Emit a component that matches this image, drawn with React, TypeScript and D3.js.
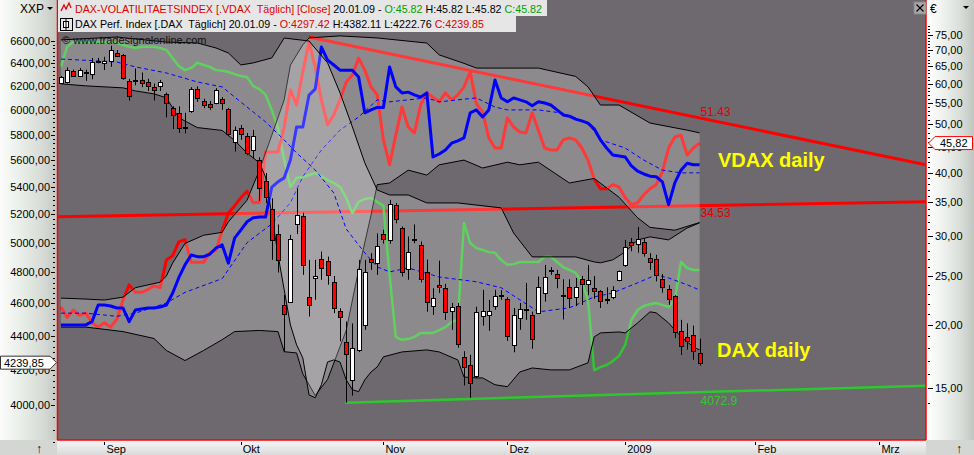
import React from "react";
import * as d3 from "d3";

const W = 974;
const H = 455;

// DAX daily candles, bar 0 = 21.08.2008 ... bar 103 = 20.01.2009
const daxOpen = [6232,6241,6333,6290,6318,6308,6416,6400,6425,6495,6474,6247,6248,6256,6236,6194,6206,6137,6020,5979,5860,5990,6180,6074,6052,6059,6096,6013,5747,5859,5788,5682,5606,5447,5237,5058,4591,4609,5132,5189,4641,4762,4888,4879,4738,4555,4360,4141,4316,4465,4888,4860,5058,5021,5270,5102,4822,5020,4986,4802,4583,4720,4698,4554,4585,4274,4228,4160,4522,4525,4583,4650,4628,4342,4507,4561,4526,4542,4667,4812,4790,4651,4705,4641,4755,4726,4700,4677,4627,4640,4750,4849,5005,4990,5005,4895,4888,4755,4690,4646,4426,4392,4406,4297.42];
const daxHigh = [6290,6365,6345,6360,6345,6448,6448,6458,6558,6519,6483,6265,6355,6320,6266,6225,6256,6148,6033,6033,5979,6194,6200,6096,6077,6185,6110,6020,5867,5880,5815,5840,5624,5504,5316,5128,4654,5055,5389,5211,4884,4884,4940,4906,4777,4570,4487,4475,4884,4884,4929,5064,5091,5304,5282,5114,5044,5128,5009,4886,4697,4879,4726,4603,4603,4307,4286,4579,4687,4623,4687,4685,4640,4571,4603,4731,4548,4773,4850,4835,4817,4755,4755,4763,4777,4850,4777,4685,4703,4710,4813,5020,5033,5110,5033,4929,4918,4790,4718,4652,4497,4475,4462,4382.11];
const daxLow = [6226,6226,6283,6283,6248,6262,6400,6342,6370,6460,6256,6081,6210,6194,6161,6081,6161,5942,5847,5817,5812,5979,6071,6018,6003,6050,6003,5790,5668,5761,5640,5617,5297,5281,4884,4800,4302,4603,5060,4784,4518,4623,4752,4720,4539,4366,4013,4052,4302,4436,4817,4784,4994,4994,5136,4773,4752,4997,4735,4548,4527,4666,4497,4436,4328,4109,4040,4150,4461,4430,4560,4623,4369,4301,4436,4497,4322,4539,4612,4784,4697,4500,4571,4583,4590,4652,4629,4571,4596,4626,4743,4838,4942,4933,4906,4817,4742,4669,4591,4386,4285,4316,4257,4222.76];
const daxClose = [6279,6342,6292,6342,6322,6412,6420,6418,6519,6466,6275,6123,6252,6226,6208,6172,6241,6059,5959,5859,5865,6180,6103,6046,6030,6170,6058,5810,5839,5810,5658,5793,5389,5325,5016,4886,4535,5027,5197,4850,4588,4775,4828,4785,4570,4514,4292,4329,4822,4800,4870,4981,5029,5277,5165,4806,4940,5025,4757,4612,4635,4705,4548,4577,4352,4216,4125,4548,4555,4555,4647,4655,4396,4529,4564,4565,4380,4708,4773,4815,4763,4654,4634,4705,4723,4752,4677,4618,4630,4684,4810,4970,4986,5023,4933,4873,4785,4705,4630,4420,4336,4366,4306,4239.85];

// VDAX close (red), second volatility line (blue), oscillator 0..100 (green)
const vdaxRed = [21.7,20.7,21.4,20.9,21.1,20.2,19.8,20.2,19.8,20.5,22.4,24.0,23.2,23.2,23.5,23.9,23.7,26.9,27.4,29.2,29.5,26.6,26.6,26.6,27.8,28.1,30.8,33.3,34.4,35.7,36.8,34.9,35.0,44.0,44.0,44.0,49.3,58.4,54.5,63.4,72.7,64.8,55.8,49.8,52.1,55.8,60.5,62.5,67.5,63.9,59.2,57.1,46.5,41.5,47.5,54.0,49.3,48.0,54.5,57.6,56.5,55.3,57.6,55.8,57.1,59.2,63.4,54.8,52.8,46.9,44.8,44.8,51.4,49.3,48.2,48.0,52.6,48.6,44.8,44.4,44.4,46.5,46.9,46.5,44.8,42.4,38.9,37.2,37.2,37.9,37.5,35.7,34.6,34.9,36.2,37.2,37.9,40.2,44.8,47.1,47.5,43.4,44.8,45.82];
const vdaxBlue = [20.0,20.0,20.0,20.0,20.0,20.3,21.9,21.9,21.8,21.6,21.6,20.3,21.4,21.5,21.6,21.6,21.7,21.9,23.1,24.8,26.3,27.5,27.3,27.3,27.6,28.4,28.8,26.5,29.7,30.8,32.0,32.6,32.7,32.7,37.5,38.4,39.1,42.4,49.3,49.3,57.0,58.6,71.0,66.9,65.4,63.9,63.9,63.9,61.9,52.6,53.3,53.9,53.9,64.8,59.2,57.6,57.8,57.1,56.5,57.6,43.0,43.6,44.4,45.8,46.3,46.9,52.6,53.3,51.6,53.3,61.1,56.3,55.3,56.3,55.8,55.3,54.3,55.3,55.0,54.5,53.3,52.1,51.8,51.1,50.7,50.2,48.9,46.5,44.8,43.4,43.2,43.0,41.3,40.3,39.8,39.4,39.3,38.4,34.6,38.2,40.5,41.8,41.5,41.5];
const oscGreen = [93.0,98.4,99.7,99.7,99.7,99.7,99.7,99.7,99.5,99.5,98.9,98.4,98.1,98.4,98.4,98.4,98.1,97.5,95.3,93.1,92.0,92.6,94.0,93.4,92.9,92.0,91.8,91.5,90.9,90.4,90.1,87.6,86.8,85.2,81.0,76.1,67.3,59.9,62.4,62.6,63.2,63.7,62.9,61.8,61.0,59.9,56.9,52.7,55.8,56.6,56.9,55.8,54.7,35.7,18.7,17.9,18.1,18.7,19.8,19.8,19.8,20.6,21.4,22.8,23.4,50.0,44.5,43.1,42.6,42.0,41.8,39.8,38.5,38.7,39.3,39.3,39.3,39.3,40.7,40.7,39.3,37.9,37.1,36.3,33.8,28.8,9.6,10.4,11.0,12.1,13.5,16.5,23.4,26.1,27.2,27.7,28.0,27.5,26.9,28.8,39.3,37.6,37.1,37.1];

// Bollinger bands read at bar indices: [bar, value]
const daxUpper = [[0,6610],[9,6636],[17,6590],[22,6582],[25,6537],[27,6492],[29,6386],[31,6404],[34,6448],[36,6627],[40,6600],[43,6404],[45,6146],[47,5864],[49,5581],[51,5377],[53,5340],[56,5340],[59,5282],[64,5282],[71,5246],[73,5068],[76,4904],[79,4904],[83,4904],[86,4870],[87,4864],[89,4884],[91,4938],[93,5020],[95,5041],[98,5020],[101,5103],[103,5139]];
const daxLower = [[0,6222],[4,6205],[10,6188],[12,6162],[15,6137],[17,6104],[19,5939],[22,5859],[26,5836],[28,5756],[30,5658],[32,5581],[33,5474],[34,5196],[35,4918],[36,4687],[37,4466],[38,4345],[39,4268],[40,4056],[41,4040],[42,4113],[43,4244],[44,4256],[45,4244],[46,4141],[47,4085],[48,4074],[49,4141],[50,4186],[51,4215],[52,4274],[55,4303],[59,4315],[61,4303],[64,4256],[65,4157],[67,4152],[68,4152],[70,4113],[72,4102],[74,4186],[76,4209],[79,4198],[82,4198],[85,4239],[86,4393],[87,4417],[90,4423],[91,4417],[93,4478],[95,4547],[96,4541],[98,4478],[100,4393],[102,4333],[103,4315]];
const daxMid = [[0,6438],[3,6430],[9,6412],[12,6369],[17,6316],[22,6238],[26,6196],[30,6027],[33,5905],[36,5760],[38,5658],[41,5527],[44,5355],[46,5096],[49,4931],[51,4837],[53,4804],[56,4830],[61,4770],[67,4739],[71,4700],[74,4623],[77,4547],[82,4572],[86,4641],[89,4667],[93,4732],[96,4784],[98,4764],[101,4719],[103,4686]];
const vdaxUpper = [[0,22.6],[4,22.5],[7,22.4],[10,22.7],[12,23.7],[16,24.3],[17,25.0],[18,26.5],[20,29.0],[23,30.1],[26,30.5],[27,32.0],[30,35.3],[32,40.5],[34,47.5],[36,55.8],[37,65.4],[39,71.7],[40,74.0],[45,74.7],[51,74.0],[59,72.3],[61,68.5],[65,65.9],[67,64.5],[77,64.5],[83,62.1],[85,59.2],[87,54.5],[90,54.5],[95,50.2],[101,48.6],[103,48.0]];
const vdaxLower = [[0,19.8],[4,19.8],[10,19.4],[15,18.8],[17,17.8],[20,17.0],[23,17.8],[26,18.7],[28,19.4],[32,19.5],[35,19.4],[36,17.7],[38,17.6],[39,16.0],[41,14.5],[43,15.6],[46,19.5],[48,25.7],[50,33.0],[51,37.9],[53,38.2],[56,40.5],[59,39.6],[61,41.5],[65,42.4],[68,40.9],[72,42.0],[74,41.5],[77,42.0],[82,38.2],[86,39.0],[90,35.8],[93,32.6],[95,31.2],[99,30.8],[103,31.9]];
const vdaxMid = [[0,21.1],[4,21.1],[9,20.8],[12,21.1],[17,22.1],[20,23.2],[26,24.7],[30,29.1],[34,31.7],[37,34.9],[39,39.3],[42,44.4],[45,48.6],[48,51.6],[51,55.8],[53,55.3],[56,55.8],[59,56.3],[61,55.3],[64,55.8],[67,56.3],[70,54.0],[72,53.3],[77,53.3],[81,52.5],[85,50.2],[87,46.5],[91,44.8],[94,42.4],[97,40.5],[100,40.0],[103,40.0]];

// Trend lines [bar, value]
const trendVdaxTop = [[40, 74.3], [139.5, 41.5]];
const trendVdaxBase = [[-0.65, 32.75], [139.5, 35.08]];
const trendDaxSupport = [[45.8, 4013], [139.5, 4108]];
const trendLabels = ["51.43", "34.53", "4072.9"];

const daxTicks = [4000,4200,4400,4600,4800,5000,5200,5400,5600,5800,6000,6200,6400,6600];
const vdaxTicks = [15,20,25,30,35,40,45,50,55,60,65,70,75];
const monthLabels = ["Sep","Okt","Nov","Dez","2009","Feb","Mrz"];
const monthBars = [7,29,52,72,91,112,132];

const FONT = "'Liberation Sans', Arial, sans-serif";
const PL = 57, PR = 926, PT = 0, PB = 440;

const loc = d3.formatLocale({ decimal: ",", thousands: ".", grouping: [3], currency: ["", ""] });
const fmt2 = loc.format(".2f");

export default function App() {
  const x = d3.scaleLinear().domain([0, 103]).range([61, 699.6]);
  const yD = d3.scaleLog().domain([4000, 6600]).range([405, 41]);
  const yV = d3.scaleLog().domain([15, 75]).range([388, 35]);
  const yO = d3.scaleLinear().domain([0, 100]).range([405, 41]);

  const seriesLine = (ys: any) => d3.line<number>().x((_, i) => x(i)).y((v) => ys(v));
  const ptLine = (ys: any) => d3.line<number[]>().x((d) => x(d[0])).y((d) => ys(d[1]));
  const band = (up: number[][], lo: number[][], ys: any) => {
    const pts: [number, number][] = [
      ...up.map((d) => [x(d[0]), ys(d[1])] as [number, number]),
      ...lo.slice().reverse().map((d) => [x(d[0]), ys(d[1])] as [number, number]),
    ];
    return (d3.line()(pts) || "") + "Z";
  };

  const overlay = "rgba(255,255,255,0.22)";
  const bg = "#6e696e";

  const daxMinor: number[] = [];
  for (let k = 0; k < daxTicks.length - 1; k++) {
    for (let s = 1; s < 6; s++) daxMinor.push(daxTicks[k] + (s * (daxTicks[k + 1] - daxTicks[k])) / 6);
  }
  daxMinor.push(3933, 3867, 3800);
  const vdaxMinor = d3.range(14, 79, 1).filter((v) => v % 5 !== 0);

  const lastDax = daxClose[daxClose.length - 1];
  const lastV = vdaxRed[vdaxRed.length - 1];
  const tagY = yD(lastDax);
  const vTagY = yV(lastV);

  return (
    <div style={{ position: "absolute", left: 0, top: 0, width: W, height: H, overflow: "hidden" }}>
      <svg width={W} height={H} style={{ display: "block", fontFamily: FONT }}>
        <defs>
          <clipPath id="plotClip">
            <rect x={PL} y={PT} width={PR - PL} height={PB - PT} />
          </clipPath>
          <linearGradient id="leftAxisG" x1="0" x2="1" y1="0" y2="0">
            <stop offset="0" stopColor="#fbfcfb" />
            <stop offset="0.35" stopColor="#eaefea" />
            <stop offset="0.75" stopColor="#d6dbd6" />
            <stop offset="1" stopColor="#c3c8c3" />
          </linearGradient>
          <linearGradient id="rightAxisG" x1="0" x2="1" y1="0" y2="0">
            <stop offset="0" stopColor="#ffffff" />
            <stop offset="0.3" stopColor="#f2f4f2" />
            <stop offset="0.7" stopColor="#dadfda" />
            <stop offset="1" stopColor="#c2c6c2" />
          </linearGradient>
          <linearGradient id="bottomG" x1="0" x2="0" y1="0" y2="1">
            <stop offset="0" stopColor="#f7f7f7" />
            <stop offset="1" stopColor="#d9dbd9" />
          </linearGradient>
        </defs>

        <rect x={0} y={0} width={W} height={H} fill="#e8e8e8" />
        <rect x={0} y={0} width={PL} height={PB} fill="url(#leftAxisG)" />
        <rect x={PR} y={0} width={W - PR} height={PB} fill="url(#rightAxisG)" />
        <rect x={0} y={PB} width={W} height={H - PB} fill="url(#bottomG)" />
        <rect x={0} y={PB} width={PL} height={H - PB} fill="#d4d6d4" />
        <rect x={PR} y={PB} width={W - PR} height={H - PB} fill="#d4d6d4" />
        <rect x={PL} y={PT} width={PR - PL} height={PB - PT} fill={bg} />

        <g clipPath="url(#plotClip)">
          <path d={ptLine(yV)(trendVdaxBase) || ""} stroke="#ff0000" strokeWidth={3} fill="none" />
          <path d={ptLine(yV)(trendVdaxTop) || ""} stroke="#ff0000" strokeWidth={3} fill="none" />
          <path d={ptLine(yD)(trendDaxSupport) || ""} stroke="#2ec82e" strokeWidth={2.5} fill="none" />

          <path d={seriesLine(yO)(oscGreen) || ""} stroke="#33c433" strokeWidth={2.5} fill="none" strokeLinejoin="round" />
          <path d={seriesLine(yV)(vdaxRed) || ""} stroke="#ff0000" strokeWidth={3} fill="none" strokeLinejoin="round" />

          <path d={band(vdaxUpper, vdaxLower, yV)} fill={overlay} stroke="none" />
          <path d={ptLine(yV)(vdaxUpper) || ""} stroke="#000" strokeWidth={1} fill="none" />
          <path d={ptLine(yV)(vdaxLower) || ""} stroke="#000" strokeWidth={1} fill="none" />
          <path d={ptLine(yV)(vdaxMid) || ""} stroke="#0000ff" strokeWidth={1} strokeDasharray="4,3" fill="none" />

          <path d={seriesLine(yV)(vdaxBlue) || ""} stroke="#0000ff" strokeWidth={3} fill="none" strokeLinejoin="round" />

          <path d={band(daxUpper, daxLower, yD)} fill={overlay} stroke="none" />
          <path d={ptLine(yD)(daxUpper) || ""} stroke="#000" strokeWidth={1} fill="none" />
          <path d={ptLine(yD)(daxLower) || ""} stroke="#000" strokeWidth={1} fill="none" />
          <path d={ptLine(yD)(daxMid) || ""} stroke="#0000ff" strokeWidth={1} strokeDasharray="4,3" fill="none" />

          {daxOpen.map((o, i) => {
            const c = daxClose[i];
            const xc = Math.round(x(i));
            const top = Math.round(yD(Math.max(o, c)));
            const bot = Math.round(yD(Math.min(o, c)));
            const up = c >= o;
            return (
              <g key={i}>
                <line x1={xc + 0.5} x2={xc + 0.5} y1={yD(daxHigh[i])} y2={yD(daxLow[i])} stroke="#000" strokeWidth={1} />
                <rect x={xc - 2 + 0.5} y={top + 0.5} width={4} height={Math.max(1, bot - top)} fill={up ? "#ffffff" : "#ff0000"} stroke="#000" strokeWidth={1} />
              </g>
            );
          })}

          <text x={x(103) + 1} y={yV(51.43) - 2} fontSize={12} fill="#e00000">{trendLabels[0]}</text>
          <text x={x(103) + 1} y={yV(34.53) + 12} fontSize={12} fill="#e00000">{trendLabels[1]}</text>
          <text x={x(103) + 1} y={yD(4072.9) + 13} fontSize={12} fill="#2ec82e">{trendLabels[2]}</text>

          <text x={718} y={167} fontSize={20} fontWeight="bold" fill="#ffff00">VDAX daily</text>
          <text x={717} y={357} fontSize={20} fontWeight="bold" fill="#ffff00">DAX daily</text>

          <text x={62} y={44} fontSize={11} fill="#111">© www.tradesignalonline.com</text>
        </g>

        <line x1={PL + 0.5} x2={PL + 0.5} y1={0} y2={PB} stroke="#ff0000" strokeWidth={1.5} />
        <line x1={PR} x2={PR} y1={0} y2={PB} stroke="#ff0000" strokeWidth={1.5} />
        <line x1={PL} x2={PR} y1={PB} y2={PB} stroke="#ff0000" strokeWidth={1.5} />

        {/* header */}
        <rect x={PL + 1} y={0} width={489} height={16} fill="#e6e6e6" />
        <rect x={PL + 1} y={16} width={458} height={16} fill="#e6e6e6" />
        <path d="M61,11 L64,5 L66,9 L69,3 L71,8" stroke="#e00000" strokeWidth={1.3} fill="none" />
        <rect x={60.5} y={18.5} width={12} height={12} fill="none" stroke="#000" />
        <rect x={63.5} y={21.5} width={5} height={6} fill="#fff" stroke="#000" />
        <line x1={66} x2={66} y1={19} y2={30} stroke="#000" />
        <text x={75} y={13} fontSize={10.7} xmlSpace="preserve">
          <tspan fill="#e00000">{"DAX-VOLATILITAETSINDEX [.VDAX  Täglich] [Close]"}</tspan>
          <tspan fill="#000">{" 20.01.09 - "}</tspan>
          <tspan fill="#00a000">{"O:45.82"}</tspan>
          <tspan fill="#000">{" H:45.82 L:45.82 "}</tspan>
          <tspan fill="#00a000">{"C:45.82"}</tspan>
        </text>
        <text x={75} y={28} fontSize={10.7} xmlSpace="preserve">
          <tspan fill="#000">{"DAX Perf. Index [.DAX  Täglich] 20.01.09 - "}</tspan>
          <tspan fill="#e00000">{"O:4297.42"}</tspan>
          <tspan fill="#000">{" H:4382.11 L:4222.76 "}</tspan>
          <tspan fill="#e00000">{"C:4239.85"}</tspan>
        </text>

        <text x={20} y={13} fontSize={12} fill="#000">XXP</text>
        <path d="M47,7 L53,7 L50,10 Z" fill="#000" />
        <rect x={914} y={2} width={12} height={12} fill="#a8a8a8" stroke="#888" />
        <path d="M916.5,4.5 L923.5,11.5 M923.5,4.5 L916.5,11.5" stroke="#000" strokeWidth={1.2} />
        <text x={930} y={13} fontSize={12} fill="#000">€</text>
        <path d="M963,6 L969,6 L966,9 Z" fill="#000" />

        {/* left axis */}
        {daxMinor.map((v, i) => (
          <line key={"dm" + i} x1={53} x2={55} y1={Math.round(yD(v)) + 0.5} y2={Math.round(yD(v)) + 0.5} stroke="#000" />
        ))}
        {daxTicks.map((v) => (
          <g key={"dt" + v}>
            <line x1={51} x2={55} y1={Math.round(yD(v)) + 0.5} y2={Math.round(yD(v)) + 0.5} stroke="#000" />
            <text x={50} y={yD(v) + 4} fontSize={11} textAnchor="end" fill="#000">{fmt2(v)}</text>
          </g>
        ))}

        {/* right axis */}
        {vdaxMinor.map((v, i) => (
          <line key={"vm" + i} x1={928} x2={930} y1={Math.round(yV(v)) + 0.5} y2={Math.round(yV(v)) + 0.5} stroke="#000" />
        ))}
        {vdaxTicks.map((v) => (
          <g key={"vt" + v}>
            <line x1={928} x2={933} y1={Math.round(yV(v)) + 0.5} y2={Math.round(yV(v)) + 0.5} stroke="#000" />
            <text x={935} y={yV(v) + 4} fontSize={11} fill="#000">{fmt2(v)}</text>
          </g>
        ))}

        {/* price tags */}
        <path
          d={`M0.5,${tagY - 6.5} L50,${tagY - 6.5} L56.5,${tagY} L50,${tagY + 6.5} L0.5,${tagY + 6.5} Z`}
          fill="#ffffff"
          stroke="#333"
        />
        <text x={4} y={tagY + 4} fontSize={11} fill="#000">{fmt2(lastDax)}</text>
        <path
          d={`M928.5,${vTagY} L935,${vTagY - 6.5} L972.5,${vTagY - 6.5} L972.5,${vTagY + 6.5} L935,${vTagY + 6.5} Z`}
          fill="#ffffff"
          stroke="#ff0000"
        />
        <text x={940} y={vTagY + 4} fontSize={11} fill="#000">{fmt2(lastV)}</text>

        {/* bottom axis */}
        {monthBars.map((b, i) => (
          <g key={"m" + i}>
            <line x1={Math.round(x(b)) + 0.5} x2={Math.round(x(b)) + 0.5} y1={442} y2={445} stroke="#000" />
            <text x={x(b) + 2} y={453} fontSize={11} fill="#000">{monthLabels[i]}</text>
          </g>
        ))}
        <text x={36} y={453} fontSize={12} fill="#000">↑</text>
        <text x={956} y={453} fontSize={12} fill="#000">↑</text>
      </svg>
    </div>
  );
}
